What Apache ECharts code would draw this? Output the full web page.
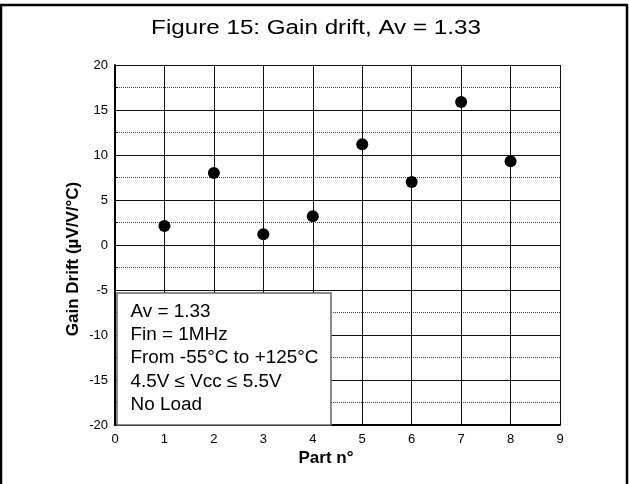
<!DOCTYPE html>
<html><head><meta charset="utf-8">
<script src="https://cdn.jsdelivr.net/npm/echarts@6/dist/echarts.min.js"></script>
<style>html,body{margin:0;padding:0;background:#fff}#c{width:629px;height:484px}</style>
</head><body><div id="c"></div>
<script>
const parts = [1, 2, 3, 4, 5, 6, 7, 8];
const drift = [2.1, 8.0, 1.2, 3.2, 11.2, 7.0, 15.9, 9.3];
const xTicks = [0, 9, 1];
const yTicks = [-20, 20, 5];
const titleText = 'Figure 15: Gain drift, Av = 1.33';
const xName = 'Part n°';
const yName = 'Gain Drift (µV/V/°C)';
const legendLines = ['Av = 1.33', 'Fin = 1MHz', 'From -55°C to +125°C', '4.5V \u2264 Vcc \u2264 5.5V', 'No Load'];

const chart = echarts.init(document.getElementById('c'), null, {renderer: 'canvas'});
const F = 'Arial, "Liberation Sans", sans-serif';
const legendText = legendLines.map((t, i) => ({
  type: 'text', x: 130.5, y: 311.7 + i * 23.3, scaleX: 1.05,
  style: {text: t, font: '18px ' + F, fill: '#000', textVerticalAlign: 'middle'}, z: 101
}));
chart.setOption({
  animation: false,
  backgroundColor: '#fff',
  grid: {left: 115, top: 65, width: 445, height: 360},
  xAxis: {
    type: 'value', min: xTicks[0], max: xTicks[1], interval: xTicks[2],
    axisLine: {onZero: false, lineStyle: {color: '#000', width: 2}},
    axisTick: {inside: true, length: 3, lineStyle: {color: '#000'}},
    axisLabel: {fontFamily: F, fontSize: 13, color: '#000', margin: 8},
    splitLine: {show: true, lineStyle: {color: '#111', width: 1}}
  },
  yAxis: {
    type: 'value', min: yTicks[0], max: yTicks[1], interval: yTicks[2],
    axisLine: {onZero: false, lineStyle: {color: '#000', width: 2}},
    axisTick: {inside: true, length: 3, lineStyle: {color: '#000'}},
    minorTick: {show: true, splitNumber: 2, length: 3, lineStyle: {color: '#000'}},
    minorSplitLine: {show: true, lineStyle: {color: '#444', type: [1, 1], width: 1}},
    axisLabel: {fontFamily: F, fontSize: 13, color: '#000', margin: 7},
    splitLine: {show: true, lineStyle: {color: '#111', width: 1}}
  },
  series: [{
    type: 'scatter', symbol: 'circle', symbolSize: 12,
    itemStyle: {color: '#000', opacity: 1},
    data: parts.map((p, i) => [p, drift[i]])
  }],
  graphic: [
    {type: 'rect', shape: {x: 1, y: 5, width: 626, height: 490}, style: {fill: 'none', stroke: '#000', lineWidth: 2.5}, z: 100},
    {type: 'rect', shape: {x: 117, y: 293, width: 214, height: 132}, style: {fill: '#fff', stroke: '#666', lineWidth: 1.5}, z: 100},
    {type: 'text', x: 316, y: 28, scaleX: 1.21, style: {text: titleText, font: '20px ' + F, fill: '#000', textAlign: 'center', textVerticalAlign: 'middle'}, z: 101},
    {type: 'text', x: 326, y: 458, style: {text: xName, font: 'bold 17px ' + F, fill: '#000', textAlign: 'center', textVerticalAlign: 'middle'}, z: 101},
    {type: 'text', x: 73, y: 259, rotation: Math.PI / 2, style: {text: yName, font: 'bold 17px ' + F, fill: '#000', textAlign: 'center', textVerticalAlign: 'middle'}, z: 101}
  ].concat(legendText)
});
</script></body></html>
